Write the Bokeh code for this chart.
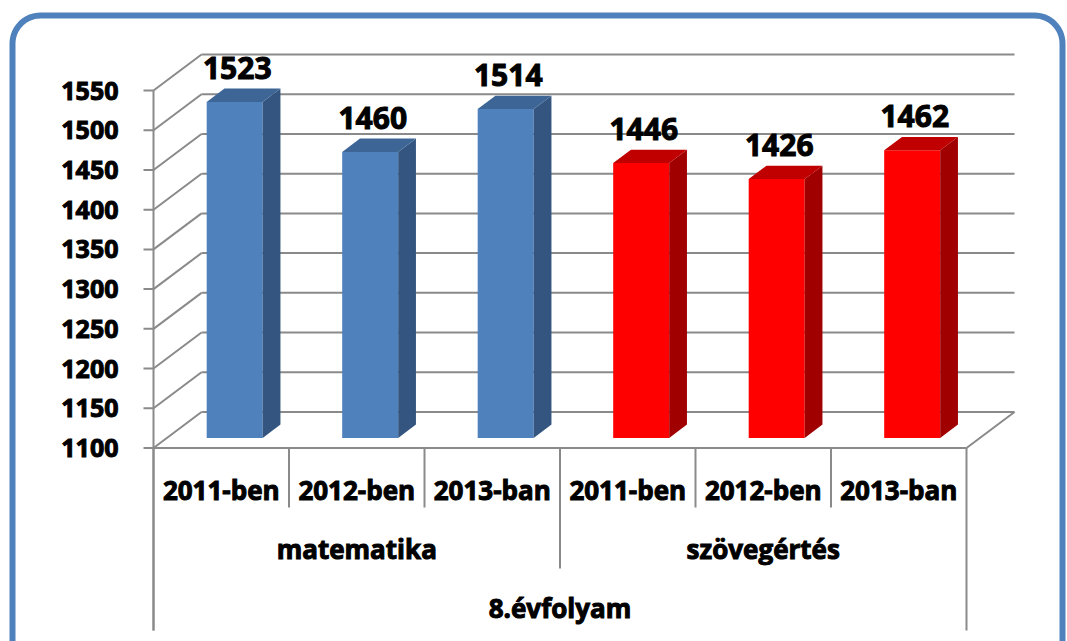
import numpy as np
from bokeh.plotting import figure
from bokeh.models import Range1d
from bokeh.core.properties import value
from bokeh.embed import file_html
from bokeh.resources import INLINE

# ---------------- data ----------------
outer_label = "8.évfolyam"
groups = ["matematika", "szövegértés"]
years = ["2011-ben", "2012-ben", "2013-ban"]
scores_math = [1523, 1460, 1514]
scores_text = [1446, 1426, 1462]
y_ticks = [1100, 1150, 1200, 1250, 1300, 1350, 1400, 1450, 1500, 1550]

# ---------------- layout (canvas pixels) ----------------
W, H = 1067, 641
AX_X = 153.0      # front value axis, canvas px
CAT_PX = 135.5    # px per category
BASE_Y = 447.5    # canvas px of lowest tick at the front plane
VAL_PX = 0.7944   # px per value unit
Y0 = y_ticks[0]
Y1 = y_ticks[-1]

def du(px):
    return px / CAT_PX

def dv(px):
    return px / VAL_PX

def u_at(cx):
    return (cx - AX_X) / CAT_PX

def v_at(cy):
    return Y0 + (BASE_Y - cy) / VAL_PX

DU, DV = du(48), dv(36)          # full depth of the 3-D box
F0, F1 = 0.28, 0.65              # bar depth span (fraction of box depth)
HW = du(28)                      # half bar width

FONT = value("Open Sans")
GRID = "#8a8a8a"
TXT = dict(text_font=FONT, text_font_style="bold", text_color="black",
           text_outline_color="black")

p = figure(width=W, height=H, output_backend="svg", toolbar_location=None,
           x_range=Range1d(u_at(0), u_at(W)), y_range=Range1d(v_at(H), v_at(0)),
           x_axis_location=None, y_axis_location=None, min_border=0)
p.grid.visible = False
p.outline_line_color = None
p.background_fill_color = "white"
p.border_fill_color = "white"

cats = [(g, y) for g in groups for y in years]
vals = scores_math + scores_text
n = len(cats)
front_cols = ["#4F81BD"] * len(scores_math) + ["#FF0000"] * len(scores_text)
top_cols = ["#3D6696"] * len(scores_math) + ["#C00000"] * len(scores_text)
side_cols = ["#33557F"] * len(scores_math) + ["#A00000"] * len(scores_text)

# ---------------- walls ----------------
p.segment(x0=[DU] * len(y_ticks), y0=[t + DV for t in y_ticks],
          x1=[n + DU] * len(y_ticks), y1=[t + DV for t in y_ticks],
          line_color=GRID, line_width=2)
p.segment(x0=[0] * len(y_ticks), y0=y_ticks, x1=[DU] * len(y_ticks),
          y1=[t + DV for t in y_ticks], line_color=GRID, line_width=2)
# floor front and right edges
p.segment(x0=[0, n], y0=[Y0, Y0], x1=[n, n + DU], y1=[Y0, Y0 + DV],
          line_color=GRID, line_width=2)
# front value axis + ticks
p.segment(x0=[0], y0=[Y1], x1=[0], y1=[v_at(630)], line_color=GRID, line_width=2)
p.segment(x0=[-du(10)] * len(y_ticks), y0=y_ticks, x1=[0] * len(y_ticks), y1=y_ticks,
          line_color=GRID, line_width=2)
p.text(x=[-du(35)] * len(y_ticks), y=y_ticks, text=[str(t) for t in y_ticks],
       text_align="right", text_baseline="middle", text_font_size="25px", **TXT)

# ---------------- category table below the floor ----------------
sep_x, sep_y1 = [], []
for i in range(n + 1):
    sep_x.append(i)
    if i == 0 or i == n:
        sep_y1.append(v_at(630))
    elif i % len(years) == 0:
        sep_y1.append(v_at(568))
    else:
        sep_y1.append(v_at(507))
p.segment(x0=sep_x, y0=[Y0] * len(sep_x), x1=sep_x, y1=sep_y1,
          line_color=GRID, line_width=2)

p.text(x=[i + 0.5 for i in range(n)], y=[v_at(489)] * n, text=[c[1] for c in cats],
       text_align="center", text_baseline="middle", text_font_size="26px", **TXT)
p.text(x=[len(years) * (j + 0.5) for j in range(len(groups))], y=[v_at(548)] * len(groups),
       text=groups, text_align="center", text_baseline="middle", text_font_size="26px", **TXT)
p.text(x=[n / 2], y=[v_at(607)], text=[outer_label], text_align="center",
       text_baseline="middle", text_font_size="26px", **TXT)

# ---------------- 3-D bars ----------------
xc = [i + 0.5 for i in range(n)]
p.quad(left=[c - HW + F0 * DU for c in xc], right=[c + HW + F0 * DU for c in xc],
       bottom=[Y0 + F0 * DV] * n, top=[v + F0 * DV for v in vals],
       fill_color=front_cols, line_color=None)
side_xs, side_ys, top_xs, top_ys = [], [], [], []
for c, v in zip(xc, vals):
    r0, r1 = c + HW + F0 * DU, c + HW + F1 * DU
    l0, l1 = c - HW + F0 * DU, c - HW + F1 * DU
    side_xs.append([r0, r1, r1, r0])
    side_ys.append([Y0 + F0 * DV, Y0 + F1 * DV, v + F1 * DV, v + F0 * DV])
    top_xs.append([l0, r0, r1, l1])
    top_ys.append([v + F0 * DV, v + F0 * DV, v + F1 * DV, v + F1 * DV])
p.patches(xs=side_xs, ys=side_ys, fill_color=side_cols, line_color=None)
p.patches(xs=top_xs, ys=top_ys, fill_color=top_cols, line_color=None)

p.text(x=[c + du(16) for c in xc], y=[v + F1 * DV + dv(21) for v in vals],
       text=[str(v) for v in vals], text_align="center", text_baseline="middle",
       text_font_size="30px", **TXT)

# ---------------- rounded frame (open at the bottom) ----------------
L, T, R, B, RAD = 12, 15, 1062, 720, 28
pts = [(L, B), (L, T + RAD)]
for a in np.linspace(np.pi, 1.5 * np.pi, 16):
    pts.append((L + RAD + RAD * np.cos(a), T + RAD + RAD * np.sin(a)))
for a in np.linspace(1.5 * np.pi, 2 * np.pi, 16):
    pts.append((R - RAD + RAD * np.cos(a), T + RAD + RAD * np.sin(a)))
pts.append((R, B))
p.line(x=[u_at(x) for x, _ in pts], y=[v_at(y) for _, y in pts],
       line_color="#4F81BD", line_width=6, line_join="round")

open("out.html", "w").write(file_html(p, INLINE))
